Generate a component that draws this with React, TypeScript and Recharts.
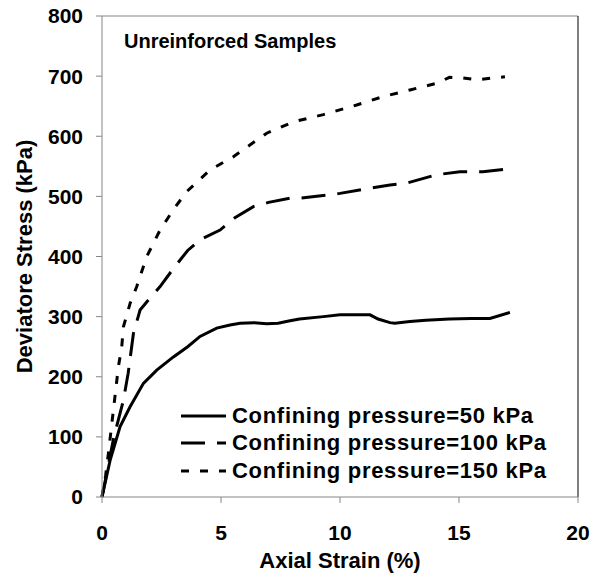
import { LineChart, Line, XAxis, YAxis, Legend, ReferenceLine } from 'recharts';

// Axial strain (%) vs deviator stress (kPa)
const strain50 = [0, 0.34, 0.76, 1.18, 1.74, 2.3, 3.0, 3.6, 4.12, 4.82, 5.38, 5.8, 6.4, 6.92, 7.4, 7.9, 8.3, 9.3, 10.0, 11.26, 11.6, 12.1, 12.3, 12.94, 13.6, 14.6, 15.5, 16.3, 17.14];
const stress50 = [0, 61, 117, 150, 189, 211, 233, 250, 267, 281, 286, 289, 290, 288, 289, 293, 296, 300, 303, 303, 296, 290, 289, 292, 294, 296, 297, 297, 307];

const strain100 = [0, 0.2, 0.5, 0.9, 1.1, 1.32, 1.6, 2.0, 2.44, 3.0, 3.6, 4.12, 4.96, 5.6, 6.36, 7.0, 7.9, 8.32, 9.44, 10.0, 11.0, 12.1, 12.8, 14.06, 15.04, 16.0, 16.93];
const stress100 = [0, 40, 100, 161, 206, 272, 311, 330, 350, 380, 410, 428, 444, 465, 483, 490, 497, 497, 502, 505, 512, 519, 522, 536, 541, 541, 545];

const strain150 = [0, 0.15, 0.27, 0.69, 0.83, 0.9, 1.18, 1.46, 1.88, 2.44, 3.0, 3.56, 4.54, 5.52, 6.2, 6.92, 8.04, 9.3, 10.7, 11.82, 12.94, 14.06, 14.6, 15.18, 15.74, 16.93];
const stress150 = [0, 35, 73, 217, 250, 283, 322, 350, 400, 444, 478, 508, 544, 566, 585, 605, 624, 636, 652, 666, 677, 688, 698, 697, 694, 699];

const xTicks = [0, 5, 10, 15, 20];
const yTicks = [0, 100, 200, 300, 400, 500, 600, 700, 800];

const seriesNames = [
  'Confining pressure=50 kPa',
  'Confining pressure=100 kPa',
  'Confining pressure=150 kPa',
];
const dashes = [undefined, '24 12', '8 11'];

const toPoints = (xs: number[], ys: number[]) => xs.map((x, i) => ({ x, y: ys[i] }));

const font = '"Liberation Sans", Arial, sans-serif';
const axisGrey = '#868686';

function LegendBox() {
  return (
    <div style={{ fontFamily: font, fontWeight: 'bold', fontSize: 22, letterSpacing: 0.7, color: '#000' }}>
      {seriesNames.map((name, i) => (
        <div key={name} style={{ display: 'flex', alignItems: 'center', height: 27.5 }}>
          <svg width={45} height={6} style={{ marginRight: 6 }}>
            <line x1={0} y1={3} x2={45} y2={3} stroke="#000" strokeWidth={3} strokeDasharray={dashes[i]} />
          </svg>
          <span style={{ whiteSpace: 'nowrap' }}>{name}</span>
        </div>
      ))}
    </div>
  );
}

export default function App() {
  const tickStyle = { fill: '#000', fontSize: 21, fontWeight: 'bold', fontFamily: font };
  const labelStyle = { fill: '#000', fontSize: 22, fontWeight: 'bold', fontFamily: font };
  return (
    <div style={{ position: 'absolute', left: 0, top: 0, background: '#fff' }}>
      <LineChart width={592} height={576} margin={{ top: 16, right: 14, bottom: 0, left: 0 }}>
        <XAxis
          dataKey="x"
          type="number"
          domain={[0, 20]}
          ticks={xTicks}
          height={79}
          tickSize={6}
          tickMargin={22}
          tick={tickStyle}
          axisLine={{ stroke: axisGrey }}
          tickLine={{ stroke: axisGrey }}
          label={{ value: 'Axial Strain (%)', position: 'insideBottom', offset: 8, style: labelStyle }}
        />
        <YAxis
          dataKey="y"
          type="number"
          domain={[0, 800]}
          ticks={yTicks}
          width={102}
          tickSize={6}
          tickMargin={13}
          tick={tickStyle}
          axisLine={{ stroke: axisGrey }}
          tickLine={{ stroke: axisGrey }}
          label={{ value: 'Deviatore Stress (kPa)', angle: -90, position: 'center', dx: -27, style: labelStyle }}
        />
        <ReferenceLine y={800} stroke={axisGrey} ifOverflow="visible" />
        <ReferenceLine x={20} stroke="#000" ifOverflow="visible" />
        <Line data={toPoints(strain50, stress50)} dataKey="y" name={seriesNames[0]} stroke="#000" strokeWidth={3} dot={false} isAnimationActive={false} />
        <Line data={toPoints(strain100, stress100)} dataKey="y" name={seriesNames[1]} stroke="#000" strokeWidth={3} strokeDasharray={dashes[1]} dot={false} isAnimationActive={false} />
        <Line data={toPoints(strain150, stress150)} dataKey="y" name={seriesNames[2]} stroke="#000" strokeWidth={3} strokeDasharray={dashes[2]} dot={false} isAnimationActive={false} />
        <text x={124} y={48} fontFamily={font} fontWeight="bold" fontSize={20} fill="#000">
          Unreinforced Samples
        </text>
        <Legend
          layout="horizontal"
          verticalAlign="middle"
          align="center"
          content={() => <LegendBox />}
          wrapperStyle={{ position: 'absolute', left: 181, top: 402, width: 390 }}
        />
      </LineChart>
    </div>
  );
}
